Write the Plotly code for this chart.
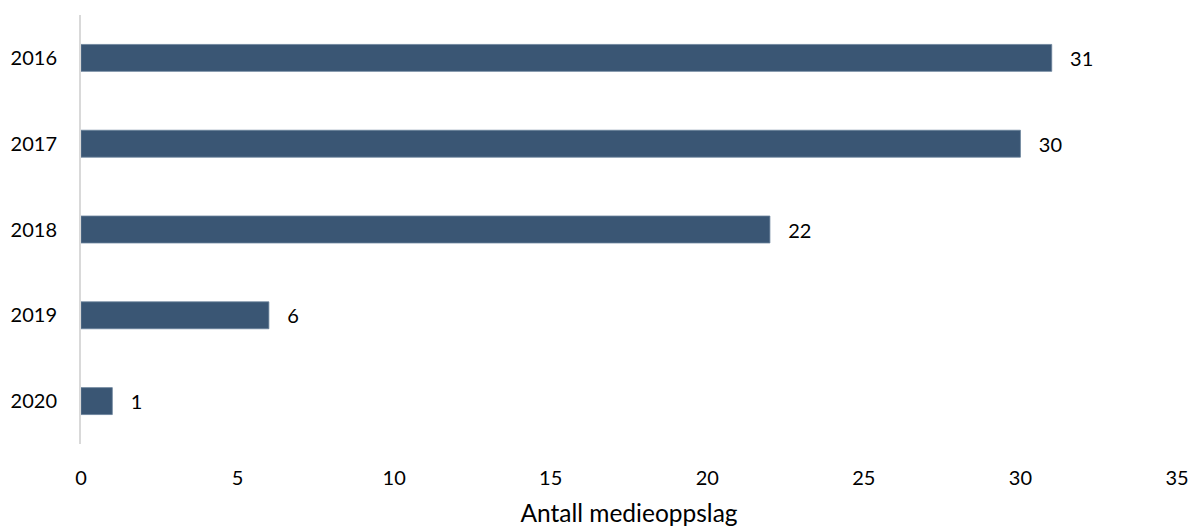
import plotly.graph_objects as go

years = ["2016", "2017", "2018", "2019", "2020"]
values = [31, 30, 22, 6, 1]
x_ticks = [0, 5, 10, 15, 20, 25, 30, 35]
x_title = "Antall medieoppslag"

font_family = "Lato, 'Open Sans', sans-serif"

fig = go.Figure()
fig.add_trace(go.Bar(
    x=values, y=years, orientation="h",
    marker=dict(color="#3A5674", line=dict(color="#6A819B", width=0.8)),
    texttemplate="\u00a0\u00a0\u00a0%{x}", textposition="outside",
    textfont=dict(family=font_family, size=20, color="#000000"),
    cliponaxis=False,
    hoverinfo="x+y",
))

fig.update_layout(
    width=1198, height=527,
    margin=dict(l=81, r=21, t=15, b=83),
    plot_bgcolor="white", paper_bgcolor="white",
    bargap=0.686,
    showlegend=False,
    font=dict(family=font_family, size=20, color="#000000"),
    xaxis=dict(range=[0, 35], tickvals=x_ticks, showgrid=False, zeroline=False,
               showline=False, ticks="", ticklabelstandoff=20, automargin=False,
               title=dict(text=x_title, standoff=18, font=dict(size=24.5))),
    yaxis=dict(type="category", autorange="reversed", automargin=False,
               showgrid=False, zeroline=False, showline=True, linecolor="#D9D9D9",
               linewidth=2, ticks="outside", ticklen=18, tickcolor="rgba(0,0,0,0)"),
)

fig.write_html("out.html")
